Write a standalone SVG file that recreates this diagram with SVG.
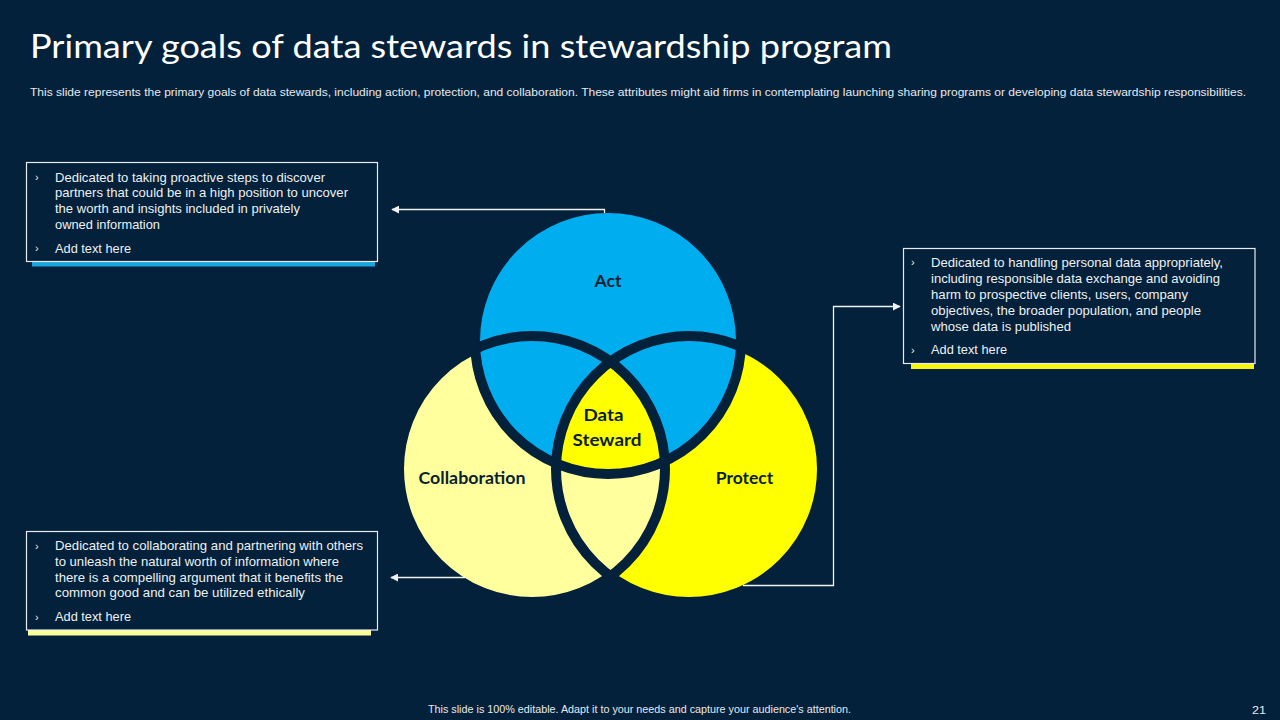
<svg xmlns="http://www.w3.org/2000/svg" width="1280" height="720" viewBox="0 0 1280 720">
  <defs>
    <style>
      .title { font-family: Lato, "Open Sans", "Liberation Sans", sans-serif; font-size: 33px; fill: #ffffff; }
      .sub { font-family: "Liberation Sans", Arial, sans-serif; font-size: 11px; fill: #e6e9ee; }
      .body { font-family: "Liberation Sans", Arial, sans-serif; font-size: 13px; fill: #eef0f3; }
      .bul { font-family: "Liberation Sans", Arial, sans-serif; font-size: 11px; fill: #eef0f3; }
      .foot { font-family: "Liberation Sans", Arial, sans-serif; font-size: 10.5px; fill: #e6e9ee; }
      .lbl { font-family: Lato, "Open Sans", "Liberation Sans", sans-serif; font-size: 17px; font-weight: 700; fill: #0b1f33; text-anchor: middle; }
      .box { fill: #03213a; stroke: #e8ecf0; stroke-width: 1.2; }
      .ring { fill: none; stroke: #03213a; stroke-width: 10; }
      .conn { fill: none; stroke: #f2f2f2; stroke-width: 1.3; }
    </style>
    <marker id="arr" viewBox="0 0 10 10" refX="9" refY="5" markerWidth="8" markerHeight="8" markerUnits="userSpaceOnUse" orient="auto">
      <path d="M0,0 L10,5 L0,10 Z" fill="#f2f2f2"/>
    </marker>
    <clipPath id="clipA"><circle cx="608" cy="341" r="133"/></clipPath>
    <clipPath id="clipC"><circle cx="532" cy="469" r="133"/></clipPath>
  </defs>

  <rect x="0" y="0" width="1280" height="720" fill="#03213a"/>

  <g id="title">
    <text class="title" x="30" y="58" textLength="862" lengthAdjust="spacingAndGlyphs">Primary goals of data stewards in stewardship program</text>
    <text class="sub" x="30" y="96" textLength="1216" lengthAdjust="spacingAndGlyphs">This slide represents the primary goals of data stewards, including action, protection, and collaboration. These attributes might aid firms in contemplating launching sharing programs or developing data stewardship responsibilities.</text>
  </g>

  <g id="venn">
    <circle cx="689" cy="469" r="133" fill="#ffff00"/>
    <circle cx="532" cy="469" r="133" fill="#ffff9e"/>
    <circle cx="608" cy="341" r="133" fill="#00aeef"/>
    <g clip-path="url(#clipA)">
      <circle cx="689" cy="469" r="133" fill="#ffff00" clip-path="url(#clipC)"/>
    </g>
    <circle class="ring" cx="689" cy="469" r="133"/>
    <circle class="ring" cx="532" cy="469" r="133"/>
    <circle class="ring" cx="608" cy="341" r="133"/>
  </g>

  <g id="node-act">
    <text class="lbl" x="608" y="287" textLength="27" lengthAdjust="spacingAndGlyphs">Act</text>
  </g>
  <g id="node-data-steward">
    <text class="lbl" x="603.5" y="420.5" textLength="40" lengthAdjust="spacingAndGlyphs">Data</text>
    <text class="lbl" x="607" y="446" textLength="69" lengthAdjust="spacingAndGlyphs">Steward</text>
  </g>
  <g id="node-collaboration">
    <text class="lbl" x="472" y="484" textLength="107" lengthAdjust="spacingAndGlyphs">Collaboration</text>
  </g>
  <g id="node-protect">
    <text class="lbl" x="744.5" y="484" textLength="57.5" lengthAdjust="spacingAndGlyphs">Protect</text>
  </g>

  <g id="connectors">
    <path class="conn" d="M604.5,213 L604.5,209.5 L392,209.5" marker-end="url(#arr)"/>
    <path class="conn" d="M465,577.5 L391,577.5" marker-end="url(#arr)"/>
    <path class="conn" d="M743,585.5 L833.5,585.5 L833.5,306.5 L900,306.5" marker-end="url(#arr)"/>
  </g>

  <g id="box-act">
    <rect x="32" y="258" width="343" height="8.5" fill="#1aa6df"/>
    <rect class="box" x="26.5" y="162.5" width="351" height="99"/>
    <text class="bul" x="35" y="181">›</text>
    <text class="body" x="55" y="181.5" textLength="270" lengthAdjust="spacingAndGlyphs">Dedicated to taking proactive  steps to discover</text>
    <text class="body" x="55" y="197" textLength="293" lengthAdjust="spacingAndGlyphs">partners that could be in a high position to uncover</text>
    <text class="body" x="55" y="213" textLength="245" lengthAdjust="spacingAndGlyphs">the worth and insights included in privately</text>
    <text class="body" x="55" y="228.5" textLength="105" lengthAdjust="spacingAndGlyphs">owned  information</text>
    <text class="bul" x="35" y="252">›</text>
    <text class="body" x="55" y="252.5" textLength="76" lengthAdjust="spacingAndGlyphs">Add text here</text>
  </g>

  <g id="box-protect">
    <rect x="911" y="360" width="343" height="9" fill="#f5f50f"/>
    <rect class="box" x="903.5" y="248.5" width="351.5" height="115"/>
    <text class="bul" x="911" y="266">›</text>
    <text class="body" x="931" y="266.5" textLength="292" lengthAdjust="spacingAndGlyphs">Dedicated to handling  personal data appropriately,</text>
    <text class="body" x="931" y="282.5" textLength="289" lengthAdjust="spacingAndGlyphs">including responsible data exchange and avoiding</text>
    <text class="body" x="931" y="298.5" textLength="257" lengthAdjust="spacingAndGlyphs">harm to prospective  clients, users, company</text>
    <text class="body" x="931" y="314.5" textLength="270" lengthAdjust="spacingAndGlyphs">objectives, the broader  population, and people</text>
    <text class="body" x="931" y="330.5" textLength="140" lengthAdjust="spacingAndGlyphs">whose data is published</text>
    <text class="bul" x="911" y="353.5">›</text>
    <text class="body" x="931" y="354" textLength="76" lengthAdjust="spacingAndGlyphs">Add text here</text>
  </g>

  <g id="box-collaboration">
    <rect x="28" y="627" width="343" height="8.5" fill="#ffff99"/>
    <rect class="box" x="26.5" y="531.5" width="351" height="98.5"/>
    <text class="bul" x="35" y="549.5">›</text>
    <text class="body" x="55" y="549.5" textLength="308" lengthAdjust="spacingAndGlyphs">Dedicated to collaborating  and partnering  with others</text>
    <text class="body" x="55" y="565.5" textLength="284" lengthAdjust="spacingAndGlyphs">to unleash the natural worth of information  where</text>
    <text class="body" x="55" y="581.5" textLength="288" lengthAdjust="spacingAndGlyphs">there is a compelling argument  that it benefits the</text>
    <text class="body" x="55" y="597" textLength="250" lengthAdjust="spacingAndGlyphs">common good and can be utilized ethically</text>
    <text class="bul" x="35" y="620.5">›</text>
    <text class="body" x="55" y="621" textLength="76" lengthAdjust="spacingAndGlyphs">Add text here</text>
  </g>

  <g id="footer">
    <text class="foot" x="428" y="713" textLength="423" lengthAdjust="spacingAndGlyphs">This slide is 100% editable.  Adapt it to your needs and capture your audience's attention.</text>
    <text class="foot" x="1252" y="714" font-size="12" textLength="14" lengthAdjust="spacingAndGlyphs">21</text>
  </g>
</svg>
